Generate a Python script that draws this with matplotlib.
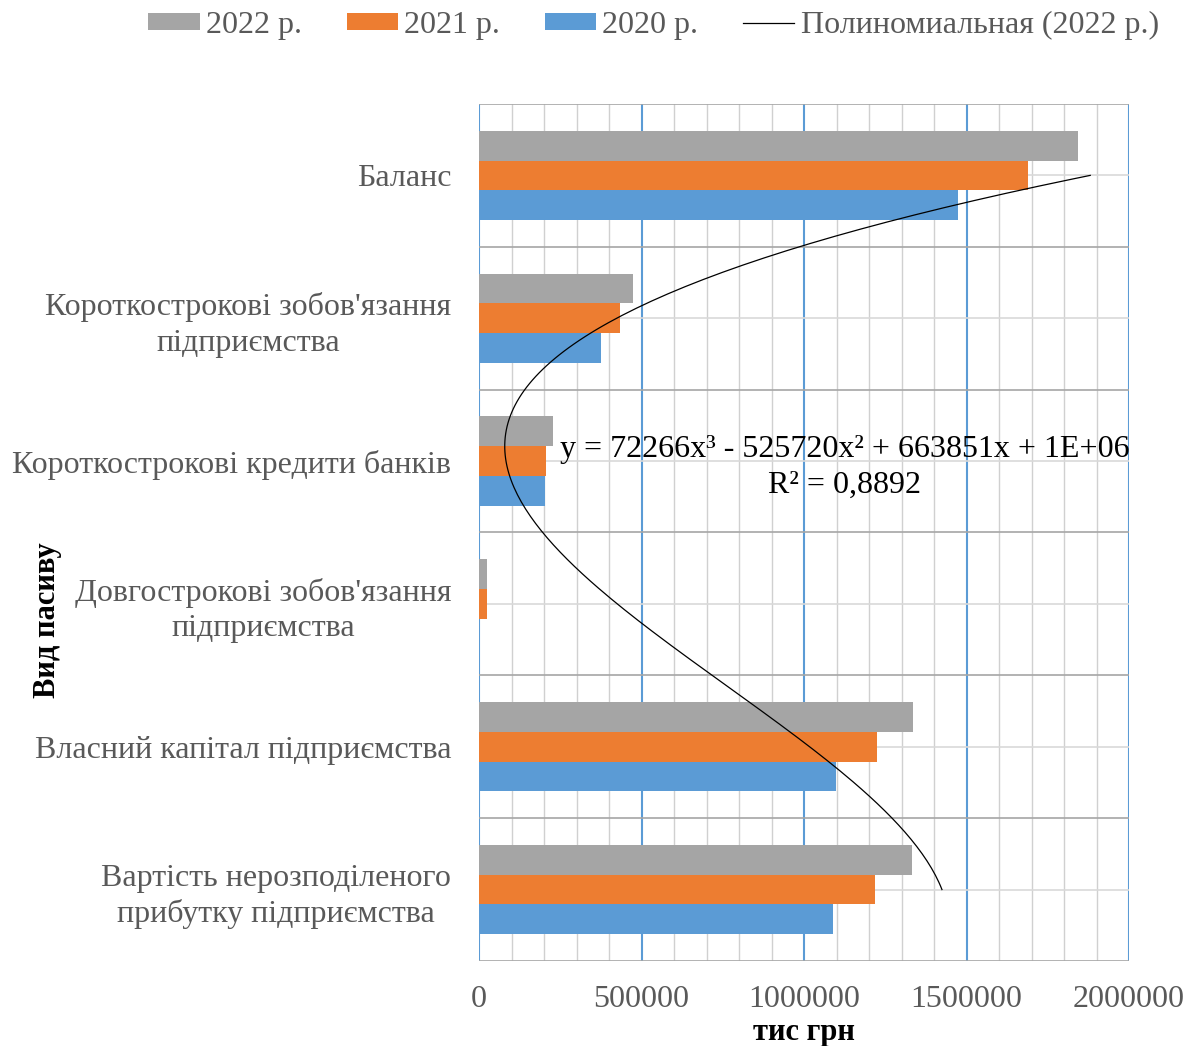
import numpy as np
import matplotlib.pyplot as plt
from matplotlib.ticker import MultipleLocator, FixedLocator, StrMethodFormatter

plt.rcParams['font.family'] = ['Liberation Serif', 'DejaVu Serif']

# categories top -> bottom
categories = [
    "Баланс",
    "Короткострокові зобов'язання\nпідприємства",
    "Короткострокові кредити банків",
    "Довгострокові зобов'язання\nпідприємства",
    "Власний капітал підприємства",
    "Вартість нерозподіленого\nприбутку підприємства",
]
vals_2022 = [1843000, 474000, 228000, 25000, 1335000, 1332000]
vals_2021 = [1689000, 434000, 206000, 25000, 1225000, 1218000]
vals_2020 = [1474000, 375000, 203000, 0, 1098000, 1089000]

# Excel trendline for 2022 (x = 1 is the bottom category)
trend_coefs = [72266, -525720, 663851, 1214000]
trend_text = "y = 72266x³ - 525720x² + 663851x + 1E+06\nR² = 0,8892"

GRAY = "#a5a5a5"
ORANGE = "#ed7d31"
BLUE = "#5b9bd5"
TXT = "#595959"
FS = 23

fig = plt.figure(figsize=(11.97, 10.46), dpi=100)
ax = fig.add_axes([0.4002, 0.0813, 0.5430, 0.8193])

n = len(categories)
pos = np.arange(n)
h = 0.208

b22 = ax.barh(pos - h, vals_2022, height=h, color=GRAY, zorder=3)
b21 = ax.barh(pos, vals_2021, height=h, color=ORANGE, zorder=3)
b20 = ax.barh(pos + h, vals_2020, height=h, color=BLUE, zorder=3)

# polynomial trendline
xs = np.linspace(1, n, 200)
ys = np.polyval(trend_coefs, xs)
tl, = ax.plot(ys, n - xs, color="black", lw=0.9, zorder=4)

ax.text(1.126e6, 2.045, trend_text, ha="center", va="center", fontsize=FS,
        color="black", linespacing=1.3, zorder=5)

ax.set_xlim(0, 2000000)
ax.set_ylim(n - 0.5, -0.5)

ax.xaxis.set_major_locator(MultipleLocator(500000))
ax.xaxis.set_minor_locator(MultipleLocator(100000))
ax.xaxis.set_major_formatter(StrMethodFormatter("{x:.0f}"))
ax.set_yticks(pos)
ax.set_yticklabels(categories, multialignment="center", linespacing=1.3)
ax.yaxis.set_minor_locator(FixedLocator(np.arange(n + 1) - 0.5))

ax.grid(which="minor", axis="x", color="#d0d0d0", lw=1.0, zorder=0)
ax.grid(which="major", axis="x", color=BLUE, lw=1.5, zorder=1)
ax.grid(which="major", axis="y", color="#d9d9d9", lw=1.2, zorder=0)
ax.grid(which="minor", axis="y", color="#a6a6a6", lw=1.2, zorder=1)

for s in ax.spines.values():
    s.set_visible(False)

ax.tick_params(which="both", length=0)
ax.tick_params(axis="x", labelsize=FS, labelcolor=TXT, pad=17)
ax.tick_params(axis="y", labelsize=FS, labelcolor=TXT, pad=20)

ax.set_xlabel("тис грн", fontsize=22, fontweight="bold", labelpad=3)
ax.set_ylabel("Вид пасиву", fontsize=22, fontweight="bold")
ax.yaxis.set_label_coords(-0.642, 0.398)

fig.legend(handles=[b22, b21, b20, tl],
           labels=["2022 р.", "2021 р.", "2020 р.", "Полиномиальная (2022 р.)"],
           loc="center", bbox_to_anchor=(0.546, 0.976), ncol=4, frameon=False,
           fontsize=FS, labelcolor=TXT, handlelength=1.6, handleheight=0.45,
           handletextpad=0.2, columnspacing=1.4)

fig.savefig("out.png", dpi=100)
